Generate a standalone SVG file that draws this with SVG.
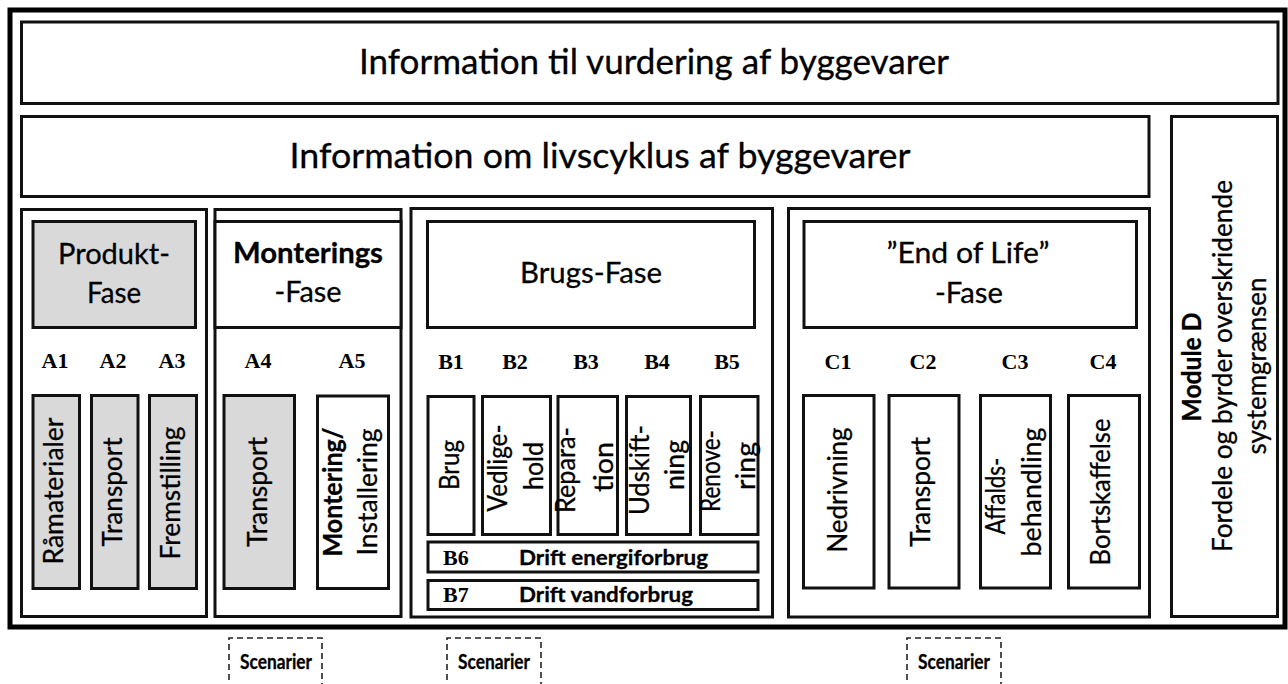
<svg xmlns="http://www.w3.org/2000/svg" width="1288" height="684" viewBox="0 0 1288 684">
<style>
.box{fill:#fff;stroke:#111;stroke-width:3}
.grey{fill:#d9d9d9;stroke:#111;stroke-width:3}
.t{font-family:Lato,"Liberation Sans",sans-serif;fill:#000;stroke:#000;stroke-width:0.3}
.h1{font-size:34px}
.h2{font-size:29px}
.v{font-size:26px}
.b{font-weight:bold}
.lab{font-family:"Liberation Serif",serif;font-weight:bold;font-size:22px;fill:#000}
.sc{fill:none;stroke:#222;stroke-width:1.6;stroke-dasharray:6 4}
</style>
<rect x="0" y="0" width="1288" height="684" fill="#fff"/>
<rect id="frame" x="10" y="10" width="1275" height="617" fill="none" stroke="#000" stroke-width="5"/>

<g id="title1">
<rect class="box" x="21.5" y="22" width="1256.5" height="81.5"/>
<text class="t h1" x="654" y="74" text-anchor="middle" textLength="590" lengthAdjust="spacingAndGlyphs">Information til vurdering af byggevarer</text>
</g>
<g id="title2">
<rect class="box" x="21.5" y="116.5" width="1127.5" height="80"/>
<text class="t h1" x="600" y="168" text-anchor="middle" textLength="621" lengthAdjust="spacingAndGlyphs">Information om livscyklus af byggevarer</text>
</g>
<g id="moduleD">
<rect class="box" x="1171.5" y="116.5" width="106" height="500"/>
<text class="t v b" transform="translate(1201,367) rotate(-90)" text-anchor="middle" textLength="109" lengthAdjust="spacingAndGlyphs">Module D</text>
<text class="t v" transform="translate(1232,366) rotate(-90)" text-anchor="middle" textLength="372" lengthAdjust="spacingAndGlyphs">Fordele og byrder overskridende</text>
<text class="t v" transform="translate(1266,366) rotate(-90)" text-anchor="middle" textLength="177" lengthAdjust="spacingAndGlyphs">systemgrænsen</text>
</g>

<g id="produkt">
<rect class="box" x="21.5" y="209.5" width="185" height="407"/>
<rect class="grey" x="33" y="221.5" width="162.5" height="106"/>
<text class="t h2" x="114" y="264" text-anchor="middle" textLength="112" lengthAdjust="spacingAndGlyphs">Produkt-</text>
<text class="t h2" x="114" y="303" text-anchor="middle" textLength="54" lengthAdjust="spacingAndGlyphs">Fase</text>
<text class="lab" x="55" y="368" text-anchor="middle">A1</text>
<text class="lab" x="113" y="368" text-anchor="middle">A2</text>
<text class="lab" x="172" y="368" text-anchor="middle">A3</text>
<rect class="grey" x="33" y="395.5" width="46.5" height="193"/>
<rect class="grey" x="91.5" y="395.5" width="46.5" height="193"/>
<rect class="grey" x="149.5" y="395.5" width="47" height="193"/>
<text class="t v" transform="translate(63,491) rotate(-90)" text-anchor="middle" textLength="147" lengthAdjust="spacingAndGlyphs">Råmaterialer</text>
<text class="t v" transform="translate(122,492) rotate(-90)" text-anchor="middle" textLength="109" lengthAdjust="spacingAndGlyphs">Transport</text>
<text class="t v" transform="translate(180,493) rotate(-90)" text-anchor="middle" textLength="133" lengthAdjust="spacingAndGlyphs">Fremstilling</text>
</g>

<g id="montering">
<rect class="box" x="215" y="209.5" width="186" height="407"/>
<rect class="box" x="215" y="221.5" width="186" height="106"/>
<text class="t h2 b" x="308" y="263" text-anchor="middle" textLength="150" lengthAdjust="spacingAndGlyphs">Monterings</text>
<text class="t h2" x="308" y="302" text-anchor="middle" textLength="67" lengthAdjust="spacingAndGlyphs">-Fase</text>
<text class="lab" x="258" y="368" text-anchor="middle">A4</text>
<text class="lab" x="352" y="368" text-anchor="middle">A5</text>
<rect class="grey" x="224" y="395.5" width="70.5" height="193"/>
<rect class="box" x="317.5" y="396" width="71" height="192.5"/>
<text class="t v" transform="translate(267,492) rotate(-90)" text-anchor="middle" textLength="110" lengthAdjust="spacingAndGlyphs">Transport</text>
<text class="t v b" transform="translate(342,492) rotate(-90)" text-anchor="middle" textLength="129" lengthAdjust="spacingAndGlyphs">Montering/</text>
<text class="t v" transform="translate(377,492) rotate(-90)" text-anchor="middle" textLength="127" lengthAdjust="spacingAndGlyphs">Installering</text>
</g>

<g id="brug">
<rect class="box" x="411" y="208.5" width="361.5" height="408.5"/>
<rect class="box" x="427.5" y="221.5" width="327" height="106"/>
<text class="t h2" x="591" y="283" text-anchor="middle" textLength="142" lengthAdjust="spacingAndGlyphs">Brugs-Fase</text>
<text class="lab" x="451" y="369" text-anchor="middle">B1</text>
<text class="lab" x="515" y="369" text-anchor="middle">B2</text>
<text class="lab" x="586" y="369" text-anchor="middle">B3</text>
<text class="lab" x="657" y="369" text-anchor="middle">B4</text>
<text class="lab" x="727" y="369" text-anchor="middle">B5</text>
<rect class="box" x="428" y="396.5" width="46" height="138"/>
<rect class="box" x="482.5" y="396.5" width="68" height="138"/>
<rect class="box" x="558" y="396.5" width="59.5" height="138"/>
<rect class="box" x="626.5" y="396.5" width="64" height="138"/>
<rect class="box" x="700.5" y="396.5" width="57.5" height="138"/>
<text class="t v" transform="translate(459,465) rotate(-90)" text-anchor="middle" textLength="50" lengthAdjust="spacingAndGlyphs">Brug</text>
<text class="t v" transform="translate(507,468) rotate(-90)" text-anchor="middle" textLength="87" lengthAdjust="spacingAndGlyphs">Vedlige-</text>
<text class="t v" transform="translate(543,466) rotate(-90)" text-anchor="middle" textLength="48" lengthAdjust="spacingAndGlyphs">hold</text>
<text class="t v" transform="translate(575,470) rotate(-90)" text-anchor="middle" textLength="86" lengthAdjust="spacingAndGlyphs">Repara-</text>
<text class="t v" transform="translate(613,467) rotate(-90)" text-anchor="middle" textLength="50" lengthAdjust="spacingAndGlyphs">tion</text>
<text class="t v" transform="translate(649,470) rotate(-90)" text-anchor="middle" textLength="90" lengthAdjust="spacingAndGlyphs">Udskift-</text>
<text class="t v" transform="translate(684,465) rotate(-90)" text-anchor="middle" textLength="50" lengthAdjust="spacingAndGlyphs">ning</text>
<text class="t v" transform="translate(720,471) rotate(-90)" text-anchor="middle" textLength="82" lengthAdjust="spacingAndGlyphs">Renove-</text>
<text class="t v" transform="translate(755,466) rotate(-90)" text-anchor="middle" textLength="48" lengthAdjust="spacingAndGlyphs">ring</text>
<rect class="box" x="428" y="542" width="330" height="30"/>
<text class="lab" x="443" y="565">B6</text>
<text class="t b" x="519" y="565" font-size="21" textLength="189" lengthAdjust="spacingAndGlyphs">Drift energiforbrug</text>
<rect class="box" x="428" y="580.5" width="330" height="29"/>
<text class="lab" x="443" y="602">B7</text>
<text class="t b" x="519" y="602" font-size="21" textLength="174" lengthAdjust="spacingAndGlyphs">Drift vandforbrug</text>
</g>

<g id="endoflife">
<rect class="box" x="788.5" y="208.5" width="361" height="408.5"/>
<rect class="box" x="804" y="221.5" width="332.5" height="106"/>
<text class="t h2" x="968" y="263" text-anchor="middle" textLength="163" lengthAdjust="spacingAndGlyphs">”End of Life”</text>
<text class="t h2" x="969" y="303" text-anchor="middle" textLength="68" lengthAdjust="spacingAndGlyphs">-Fase</text>
<text class="lab" x="838" y="369" text-anchor="middle">C1</text>
<text class="lab" x="923" y="369" text-anchor="middle">C2</text>
<text class="lab" x="1015" y="369" text-anchor="middle">C3</text>
<text class="lab" x="1103" y="369" text-anchor="middle">C4</text>
<rect class="box" x="803.5" y="395.5" width="70.5" height="192.5"/>
<rect class="box" x="889" y="395.5" width="70" height="192.5"/>
<rect class="box" x="980.5" y="395.5" width="70" height="192.5"/>
<rect class="box" x="1068.5" y="395.5" width="71" height="192.5"/>
<text class="t v" transform="translate(847,490) rotate(-90)" text-anchor="middle" textLength="125" lengthAdjust="spacingAndGlyphs">Nedrivning</text>
<text class="t v" transform="translate(930,492) rotate(-90)" text-anchor="middle" textLength="110" lengthAdjust="spacingAndGlyphs">Transport</text>
<text class="t v" transform="translate(1005,496) rotate(-90)" text-anchor="middle" textLength="77" lengthAdjust="spacingAndGlyphs">Affalds-</text>
<text class="t v" transform="translate(1041,492) rotate(-90)" text-anchor="middle" textLength="129" lengthAdjust="spacingAndGlyphs">behandling</text>
<text class="t v" transform="translate(1110,492) rotate(-90)" text-anchor="middle" textLength="147" lengthAdjust="spacingAndGlyphs">Bortskaffelse</text>
</g>

<g id="scenarier1">
<path class="sc" d="M229,690 V638 H322 V690"/>
<text class="t b" x="276" y="669" font-size="21" text-anchor="middle" textLength="72" lengthAdjust="spacingAndGlyphs">Scenarier</text>
</g>
<g id="scenarier2">
<path class="sc" d="M447,690 V638 H541 V690"/>
<text class="t b" x="494" y="669" font-size="21" text-anchor="middle" textLength="72" lengthAdjust="spacingAndGlyphs">Scenarier</text>
</g>
<g id="scenarier3">
<path class="sc" d="M907,690 V638 H1001 V690"/>
<text class="t b" x="954" y="669" font-size="21" text-anchor="middle" textLength="72" lengthAdjust="spacingAndGlyphs">Scenarier</text>
</g>
</svg>
